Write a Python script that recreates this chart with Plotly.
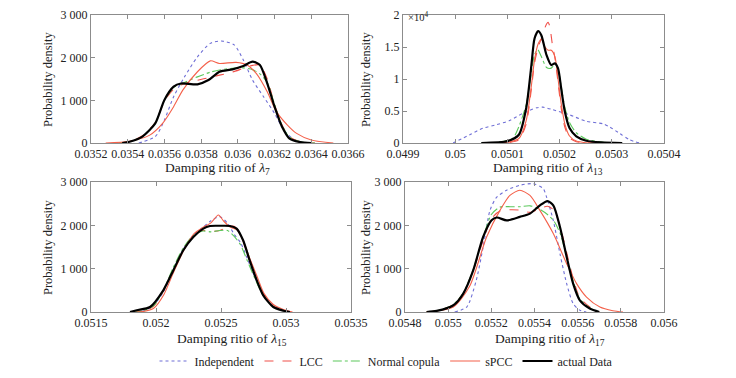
import plotly.graph_objects as go

# ---------------- data ----------------
series_names = ["Independent", "LCC", "Normal copula", "sPCC", "actual Data"]

# top-left: lambda 7
tl_x_ind = [0.03546, 0.03555, 0.03560, 0.03565, 0.03571, 0.03578, 0.03585, 0.03591, 0.03598, 0.03603, 0.03608, 0.03614, 0.03620, 0.03625, 0.03631, 0.03638]
tl_y_ind = [0, 150, 540, 1085, 1555, 2020, 2335, 2390, 2300, 1945, 1475, 1085, 695, 305, 70, 0]
tl_x_lcc = [0.03535, 0.03541, 0.03548, 0.03555, 0.03560, 0.03565, 0.03570, 0.03578, 0.03585, 0.03590, 0.03597, 0.03603, 0.03608, 0.03612, 0.03616, 0.03620, 0.03624, 0.03628, 0.03634, 0.03642]
tl_y_lcc = [0, 30, 170, 480, 980, 1260, 1380, 1470, 1540, 1590, 1660, 1750, 1820, 1830, 1500, 900, 430, 150, 30, 0]
tl_x_nc = tl_x_lcc
tl_y_nc = [0, 30, 150, 470, 1000, 1300, 1400, 1550, 1660, 1710, 1750, 1760, 1720, 1620, 1420, 900, 420, 140, 30, 0]
tl_x_spcc = [0.03528, 0.03541, 0.03552, 0.03559, 0.03565, 0.03570, 0.03578, 0.03585, 0.03590, 0.03599, 0.03605, 0.03610, 0.03616, 0.03621, 0.03627, 0.03632, 0.03640, 0.03652]
tl_y_spcc = [0, 40, 185, 460, 850, 1240, 1670, 1925, 1865, 1890, 1830, 1630, 1200, 735, 420, 225, 70, 0]
tl_x_act = [0.03537, 0.03541, 0.03548, 0.03555, 0.03560, 0.03565, 0.03569, 0.03578, 0.03584, 0.03590, 0.03597, 0.03603, 0.03608, 0.03612, 0.03616, 0.03620, 0.03624, 0.03628, 0.03634, 0.03640]
tl_y_act = [0, 30, 150, 460, 1010, 1320, 1395, 1375, 1475, 1670, 1725, 1805, 1905, 1830, 1400, 850, 385, 110, 20, 0]

# top-right: lambda 13
tr_x_ind = [0.049996, 0.050028, 0.050053, 0.050079, 0.050104, 0.050129, 0.050156, 0.050168, 0.050187, 0.050219, 0.050251, 0.050283, 0.050296, 0.050315, 0.050334, 0.050353]
tr_y_ind = [0, 1300, 2300, 2850, 3500, 4600, 5500, 5600, 5200, 4400, 3400, 3000, 2500, 1500, 500, 0]
tr_x_lcc = [0.05007, 0.05010, 0.050122, 0.050136, 0.050146, 0.050152, 0.050159, 0.050165, 0.050170, 0.050175, 0.050178, 0.050181, 0.050186, 0.050191, 0.050197, 0.050203, 0.05021, 0.050219, 0.050232, 0.05025, 0.05027]
tr_y_lcc = [0, 50, 500, 3000, 8500, 12500, 15000, 16300, 17600, 18600, 18850, 18300, 15500, 13300, 9500, 5500, 2500, 800, 200, 30, 0]
tr_x_nc = [0.05005, 0.05008, 0.05011, 0.050122, 0.050136, 0.050146, 0.050152, 0.050158, 0.050165, 0.050175, 0.050184, 0.050191, 0.050197, 0.050203, 0.05021, 0.050219, 0.050232, 0.050251, 0.05028, 0.05031]
tr_y_nc = [0, 100, 700, 2560, 6000, 11000, 13800, 14600, 13500, 11800, 11700, 12300, 11600, 8800, 5600, 3200, 1600, 600, 150, 0]
tr_x_spcc = [0.05007, 0.05010, 0.050122, 0.050136, 0.050146, 0.050152, 0.050159, 0.050165, 0.050172, 0.050178, 0.050184, 0.050191, 0.050197, 0.050203, 0.05021, 0.050219, 0.050232, 0.05025, 0.05027]
tr_y_spcc = [0, 100, 700, 3500, 9000, 13000, 15500, 16200, 15000, 14500, 14500, 13500, 10000, 6200, 3000, 1100, 300, 50, 0]
tr_x_act = [0.05005, 0.05010, 0.050122, 0.050136, 0.050146, 0.050152, 0.050159, 0.050165, 0.050175, 0.050184, 0.050191, 0.050197, 0.050203, 0.050210, 0.050219, 0.050232, 0.050251, 0.05028, 0.05032]
tr_y_act = [0, 300, 1290, 5440, 12180, 16330, 17500, 16840, 13730, 12180, 12440, 11660, 8550, 4910, 2330, 1030, 360, 100, 0]

# bottom-left: lambda 15
bl_x_ind = [0.05185, 0.05190, 0.05198, 0.05206, 0.05213, 0.05221, 0.05229, 0.05236, 0.05242, 0.05249, 0.05255, 0.05260, 0.05265, 0.05270, 0.05276, 0.05282, 0.05290, 0.05298, 0.05303]
bl_y_ind = [0, 20, 150, 480, 950, 1450, 1780, 1950, 2100, 2200, 2050, 1800, 1600, 1250, 800, 420, 150, 40, 0]
bl_x_lcc = [0.05182, 0.05190, 0.05198, 0.05206, 0.05213, 0.05221, 0.05229, 0.05236, 0.05242, 0.05249, 0.05255, 0.05260, 0.05265, 0.05270, 0.05276, 0.05282, 0.05290, 0.05298, 0.05303]
bl_y_lcc = [0, 20, 130, 500, 980, 1450, 1780, 1880, 1860, 1880, 1960, 1980, 1800, 1350, 850, 440, 140, 30, 0]
bl_x_nc = bl_x_lcc
bl_y_nc = [0, 25, 140, 520, 1010, 1480, 1780, 1870, 1850, 1880, 1880, 1750, 1550, 1200, 780, 400, 130, 30, 0]
bl_x_spcc = [0.05185, 0.05190, 0.05198, 0.05206, 0.05213, 0.05221, 0.05229, 0.05236, 0.05242, 0.05248, 0.05252, 0.05257, 0.05262, 0.05267, 0.05272, 0.05278, 0.05283, 0.05290, 0.05298, 0.05305]
bl_y_spcc = [0, 10, 80, 400, 880, 1400, 1800, 1950, 2050, 2240, 2100, 1960, 1900, 1650, 1250, 800, 430, 180, 60, 0]
bl_x_act = [0.05180, 0.051852, 0.051954, 0.052056, 0.052133, 0.05221, 0.052287, 0.052364, 0.052415, 0.052492, 0.05257, 0.05262, 0.05267, 0.05272, 0.052775, 0.052825, 0.052902, 0.05298, 0.05303]
bl_y_act = [0, 40, 115, 500, 960, 1425, 1730, 1925, 1985, 1990, 1985, 1925, 1655, 1195, 730, 385, 115, 30, 0]

# bottom-right: lambda 17
br_x_ind = [0.05503, 0.055086, 0.05513, 0.055162, 0.055194, 0.055225, 0.055271, 0.055332, 0.055394, 0.05544, 0.055456, 0.055487, 0.055518, 0.055549, 0.055579, 0.05561, 0.05564]
br_y_ind = [0, 115, 730, 1500, 2350, 2650, 2810, 2925, 2960, 2850, 2650, 2115, 1345, 655, 195, 40, 0]
br_x_lcc = [0.05490, 0.05495, 0.05502, 0.05507, 0.055116, 0.055162, 0.05520, 0.05524, 0.05529, 0.05533, 0.05538, 0.05542, 0.05546, 0.05549, 0.05552, 0.05555, 0.05558, 0.05561, 0.05566, 0.05570]
br_y_lcc = [0, 30, 160, 430, 950, 1650, 2150, 2330, 2360, 2350, 2300, 2380, 2440, 2350, 1950, 1350, 750, 330, 100, 0]
br_x_nc = br_x_lcc
br_y_nc = [0, 30, 160, 440, 980, 1720, 2250, 2420, 2430, 2430, 2450, 2380, 2250, 2100, 1800, 1250, 700, 300, 80, 0]
br_x_spcc = [0.05490, 0.055024, 0.0551, 0.055178, 0.05524, 0.055286, 0.055332, 0.055379, 0.055425, 0.055487, 0.055549, 0.055595, 0.055641, 0.055703, 0.055763, 0.05581]
br_y_spcc = [0, 115, 600, 1730, 2345, 2690, 2810, 2690, 2345, 1810, 1115, 655, 345, 115, 30, 0]
br_x_act = [0.05490, 0.054947, 0.055024, 0.05507, 0.055116, 0.055162, 0.055201, 0.055225, 0.055271, 0.055332, 0.055379, 0.055425, 0.05546, 0.055487, 0.055518, 0.055549, 0.055579, 0.05561, 0.055656, 0.05570]
br_y_act = [0, 25, 155, 425, 960, 1730, 2115, 2180, 2115, 2195, 2270, 2460, 2560, 2460, 1960, 1270, 655, 270, 80, 0]

# tick labels
tl_xticks = [0.0352, 0.0354, 0.0356, 0.0358, 0.0360, 0.0362, 0.0364, 0.0366]
tl_xlabels = ["0.0352", "0.0354", "0.0356", "0.0358", "0.036", "0.0362", "0.0364", "0.0366"]
tr_xticks = [0.0499, 0.0500, 0.0501, 0.0502, 0.0503, 0.0504]
tr_xlabels = ["0.0499", "0.05", "0.0501", "0.0502", "0.0503", "0.0504"]
bl_xticks = [0.0515, 0.0520, 0.0525, 0.0530, 0.0535]
bl_xlabels = ["0.0515", "0.052", "0.0525", "0.053", "0.0535"]
br_xticks = [0.0548, 0.0550, 0.0552, 0.0554, 0.0556, 0.0558, 0.0560]
br_xlabels = ["0.0548", "0.055", "0.0552", "0.0554", "0.0556", "0.0558", "0.056"]
y3k_ticks = [0, 1000, 2000, 3000]
y3k_labels = ["0", "1 000", "2 000", "3 000"]
y2e4_ticks = [0, 5000, 10000, 15000, 20000]
y2e4_labels = ["0", "0.5", "1", "1.5", "2"]

# ---------------- styling ----------------
# the page body has an 8 px default margin, so the figure is 8 px smaller
# and all screen positions below are shifted by that offset
OFF = 8
W, H = 736 - OFF, 378 - OFF
FONT = "Liberation Serif"
styles = {
    "Independent": dict(color="#6f6fd6", width=1.1, dash="dot"),
    "LCC": dict(color="#f0504a", width=1.1, dash="dash"),
    "Normal copula": dict(color="#5cc85c", width=1.1, dash="dashdot"),
    "sPCC": dict(color="#f4604a", width=1.1, dash="solid"),
    "actual Data": dict(color="#000000", width=2.2, dash="solid"),
}

panels = [
    ("x", "y", [tl_x_ind, tl_x_lcc, tl_x_nc, tl_x_spcc, tl_x_act], [tl_y_ind, tl_y_lcc, tl_y_nc, tl_y_spcc, tl_y_act]),
    ("x2", "y2", [tr_x_ind, tr_x_lcc, tr_x_nc, tr_x_spcc, tr_x_act], [tr_y_ind, tr_y_lcc, tr_y_nc, tr_y_spcc, tr_y_act]),
    ("x3", "y3", [bl_x_ind, bl_x_lcc, bl_x_nc, bl_x_spcc, bl_x_act], [bl_y_ind, bl_y_lcc, bl_y_nc, bl_y_spcc, bl_y_act]),
    ("x4", "y4", [br_x_ind, br_x_lcc, br_x_nc, br_x_spcc, br_x_act], [br_y_ind, br_y_lcc, br_y_nc, br_y_spcc, br_y_act]),
]

fig = go.Figure()
for pi, (xa, ya, xs, ys) in enumerate(panels):
    for name, xv, yv in zip(series_names, xs, ys):
        fig.add_trace(go.Scatter(
            x=xv, y=yv, mode="lines", name=name, xaxis=xa, yaxis=ya,
            line=dict(shape="spline", smoothing=0.7, **styles[name]),
            showlegend=(pi == 0), legendgroup=name,
        ))

def px_x(p):
    return (p - OFF) / W

def px_y(p):
    return 1 - (p - OFF) / H

axis_common = dict(showline=True, mirror="allticks", linecolor="#8c8c8c", linewidth=1,
                   ticks="inside", ticklen=4, tickcolor="#8c8c8c", showgrid=False,
                   zeroline=False, automargin=False,
                   tickfont=dict(family=FONT, size=12, color="#222"))

doms = {
    "": ((91, 348), (15, 143)),
    "2": ((403, 664), (15, 143)),
    "3": ((91, 351), (182, 312)),
    "4": ((405, 664), (182, 312)),
}
xinfo = {"": ([0.0352, 0.0366], tl_xticks, tl_xlabels),
         "2": ([0.0499, 0.0504], tr_xticks, tr_xlabels),
         "3": ([0.0515, 0.0535], bl_xticks, bl_xlabels),
         "4": ([0.0548, 0.0560], br_xticks, br_xlabels)}
yinfo = {"": ([0, 3000], y3k_ticks, y3k_labels),
         "2": ([0, 20000], y2e4_ticks, y2e4_labels),
         "3": ([0, 3000], y3k_ticks, y3k_labels),
         "4": ([0, 3000], y3k_ticks, y3k_labels)}

layout = dict(
    template="none",
    width=W, height=H, margin=dict(l=0, r=0, t=0, b=0, autoexpand=False),
    paper_bgcolor="white", plot_bgcolor="white",
    font=dict(family=FONT, size=12, color="#222"),
    showlegend=True,
    legend=dict(orientation="h", x=px_x(386), xanchor="center", y=px_y(361), yanchor="middle",
                font=dict(family=FONT, size=12, color="#222"), bgcolor="rgba(0,0,0,0)",
                itemwidth=30, tracegroupgap=0),
)
for k, ((x0, x1), (y0, y1)) in doms.items():
    xr, xt, xl = xinfo[k]
    yr, yt, yl = yinfo[k]
    layout["xaxis" + k] = dict(axis_common, domain=[px_x(x0), px_x(x1)], range=xr,
                               tickvals=xt, ticktext=xl, anchor="y" + k)
    layout["yaxis" + k] = dict(axis_common, domain=[px_y(y1), px_y(y0)], range=yr,
                               tickvals=yt, ticktext=yl, anchor="x" + k)
fig.update_layout(**layout)

# axis titles as annotations
xtfont = dict(family=FONT, size=13.5, color="#222")
ytfont = dict(family=FONT, size=12.5, color="#222")
xtitles = [(218, 168, "Damping ritio of <i>λ</i><sub>7</sub>"),
           (548, 168, "Damping ritio of <i>λ</i><sub>13</sub>"),
           (232, 339, "Damping ritio of <i>λ</i><sub>15</sub>"),
           (550, 339, "Damping ritio of <i>λ</i><sub>17</sub>")]
for x, y, t in xtitles:
    fig.add_annotation(x=px_x(x), y=px_y(y), xref="paper", yref="paper", text=t,
                       showarrow=False, font=xtfont, xanchor="center", yanchor="middle")
ytitles = [(48, 79), (366, 79), (48, 247), (366, 247)]
for x, y in ytitles:
    fig.add_annotation(x=px_x(x), y=px_y(y), xref="paper", yref="paper", text="Probability density",
                       showarrow=False, font=ytfont, textangle=-90, xanchor="center", yanchor="middle")
fig.add_annotation(x=px_x(406), y=px_y(8.5), xref="paper", yref="paper", text="×10<sup>4</sup>",
                   showarrow=False, font=dict(family=FONT, size=10.5, color="#222"),
                   xanchor="left", yanchor="top", yshift=0)

fig.write_html("out.html")
